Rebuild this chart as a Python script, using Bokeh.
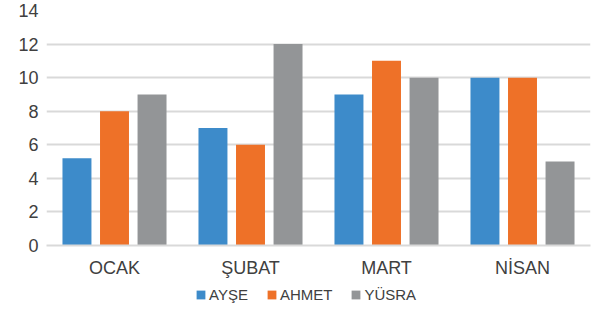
from bokeh.plotting import figure
from bokeh.models import ColumnDataSource, FactorRange, Range1d, Legend, LegendItem, FixedTicker
from bokeh.transform import dodge
from bokeh.layouts import column
from bokeh.embed import file_html
from bokeh.resources import INLINE

months = ["OCAK", "ŞUBAT", "MART", "NİSAN"]
series_names = ["AYŞE", "AHMET", "YÜSRA"]
ayse = [5.2, 7, 9, 10]
ahmet = [8, 6, 11, 10]
yusra = [9, 12, 10, 5]
y_ticks = [0, 2, 4, 6, 8, 10, 12, 14]
colors = ["#3D8BCA", "#EE7128", "#939597"]

source = ColumnDataSource(data=dict(months=months, ayse=ayse, ahmet=ahmet, yusra=yusra))

FONT = "Liberation Sans"
TXT = "#404040"

p = figure(width=603, height=280, x_range=FactorRange(factors=months, range_padding=0),
           y_range=Range1d(0, 14), output_backend="svg", toolbar_location=None,
           min_border_left=46, min_border_right=13, min_border_top=10, min_border_bottom=34)
p.outline_line_color = None
p.background_fill_color = "white"
p.border_fill_color = "white"

offs = [-0.276, 0.0, 0.276]
cols = ["ayse", "ahmet", "yusra"]
for c, o, col in zip(cols, offs, colors):
    p.vbar(x=dodge("months", o, range=p.x_range), top=c, width=0.213, source=source,
           fill_color=col, line_color=None)

p.xgrid.grid_line_color = None
p.ygrid.grid_line_color = "#D9D9D9"
p.ygrid.grid_line_width = 2
p.yaxis.ticker = FixedTicker(ticks=y_ticks)

p.yaxis.axis_line_color = None
p.yaxis.major_tick_line_color = None
p.yaxis.minor_tick_line_color = None
p.yaxis.major_tick_out = 0
p.yaxis.minor_tick_out = 0
p.yaxis.major_label_text_font = FONT
p.yaxis.major_label_text_font_size = "18px"
p.yaxis.major_label_text_color = TXT
p.yaxis.major_label_standoff = 8

p.xaxis.axis_line_color = "#D9D9D9"
p.xaxis.axis_line_width = 2
p.xaxis.major_tick_line_color = None
p.xaxis.minor_tick_line_color = None
p.xaxis.major_tick_out = 0
p.xaxis.minor_tick_out = 0
p.xaxis.major_label_text_font = FONT
p.xaxis.major_label_text_font_size = "18px"
p.xaxis.major_label_text_color = TXT
p.xaxis.major_label_standoff = 12

# separate strip for the legend, below the chart
lf = figure(width=603, height=31, x_range=FactorRange(factors=months, range_padding=0),
            y_range=Range1d(0, 14), output_backend="svg", toolbar_location=None,
            min_border_left=46, min_border_right=13, min_border_top=0, min_border_bottom=0)
lf.axis.visible = False
lf.grid.visible = False
lf.outline_line_color = None
lf.border_fill_color = "white"
leg_renderers = []
for c, o, col in zip(cols, offs, colors):
    r = lf.vbar(x=dodge("months", o, range=lf.x_range), top=c, width=0.213, source=source,
                fill_color=col, line_color=None)
    r.visible = False
    leg_renderers.append(r)

legend = Legend(items=[LegendItem(label=n, renderers=[r]) for n, r in zip(series_names, leg_renderers)],
                orientation="horizontal", location=(149, 8))
legend.glyph_width = 11
legend.glyph_height = 11
legend.label_standoff = 3
legend.spacing = 18
legend.padding = 0
legend.margin = 0
legend.label_height = 15
legend.label_text_font = FONT
legend.label_text_font_size = "15px"
legend.label_text_color = TXT
legend.border_line_color = None
legend.background_fill_alpha = 0
lf.add_layout(legend, "center")

open("out.html", "w").write(file_html(column(p, lf, spacing=0), INLINE))
